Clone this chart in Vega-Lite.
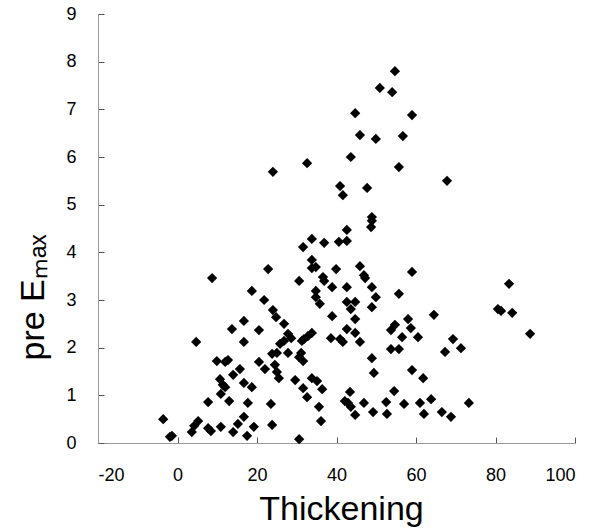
{
  "$schema": "https://vega.github.io/schema/vega-lite/v6.json",
  "width": 477,
  "height": 429,
  "autosize": {"type": "none"},
  "padding": {"left": 98, "top": 14, "right": 23, "bottom": 86},
  "background": "white",
  "config": {
    "view": {"stroke": null},
    "font": "Liberation Sans"
  },
  "data": {
    "values": [
      {"t": -3.6, "e": 0.50}, {"t": -1.9, "e": 0.13}, {"t": -1.4, "e": 0.15}, {"t": 3.6, "e": 0.23},
      {"t": 4.2, "e": 0.36}, {"t": 5.2, "e": 0.46}, {"t": 4.7, "e": 2.12}, {"t": 7.7, "e": 0.31},
      {"t": 8.4, "e": 0.25}, {"t": 7.7, "e": 0.86}, {"t": 8.7, "e": 3.46}, {"t": 9.9, "e": 1.72},
      {"t": 10.9, "e": 0.34}, {"t": 10.9, "e": 1.03}, {"t": 10.7, "e": 1.34}, {"t": 11.4, "e": 1.22},
      {"t": 12.0, "e": 1.17}, {"t": 12.0, "e": 1.70}, {"t": 12.7, "e": 1.74}, {"t": 13.0, "e": 0.88},
      {"t": 13.7, "e": 2.39}, {"t": 14.0, "e": 1.43}, {"t": 14.0, "e": 0.23}, {"t": 15.2, "e": 0.40},
      {"t": 15.7, "e": 1.55}, {"t": 16.7, "e": 0.55}, {"t": 16.7, "e": 1.26}, {"t": 16.7, "e": 2.12},
      {"t": 16.7, "e": 2.56}, {"t": 17.5, "e": 0.15}, {"t": 17.7, "e": 0.84}, {"t": 18.7, "e": 1.17},
      {"t": 18.7, "e": 3.19}, {"t": 19.2, "e": 0.34}, {"t": 20.5, "e": 2.37}, {"t": 20.5, "e": 1.70},
      {"t": 21.8, "e": 3.00}, {"t": 22.0, "e": 1.55}, {"t": 22.8, "e": 3.65}, {"t": 23.5, "e": 0.82},
      {"t": 23.8, "e": 0.38}, {"t": 23.8, "e": 1.87}, {"t": 25.0, "e": 1.89}, {"t": 24.0, "e": 2.79},
      {"t": 24.8, "e": 2.64}, {"t": 24.5, "e": 1.64}, {"t": 25.0, "e": 1.49}, {"t": 25.5, "e": 1.36},
      {"t": 26.8, "e": 2.50}, {"t": 27.8, "e": 2.29}, {"t": 28.6, "e": 2.20}, {"t": 26.8, "e": 2.14},
      {"t": 25.8, "e": 2.08}, {"t": 27.8, "e": 1.89}, {"t": 29.6, "e": 1.32}, {"t": 30.6, "e": 3.40},
      {"t": 30.6, "e": 0.08}, {"t": 31.1, "e": 1.89}, {"t": 30.6, "e": 1.80}, {"t": 31.6, "e": 1.72},
      {"t": 31.3, "e": 2.14}, {"t": 31.8, "e": 2.18}, {"t": 32.8, "e": 2.24}, {"t": 33.8, "e": 2.31},
      {"t": 31.6, "e": 1.15}, {"t": 31.6, "e": 4.11}, {"t": 32.6, "e": 5.87}, {"t": 32.6, "e": 0.96},
      {"t": 33.8, "e": 4.28}, {"t": 33.8, "e": 3.84}, {"t": 34.8, "e": 3.69}, {"t": 33.8, "e": 3.67},
      {"t": 33.8, "e": 1.36}, {"t": 35.1, "e": 1.30}, {"t": 34.8, "e": 3.19}, {"t": 34.8, "e": 3.06},
      {"t": 35.8, "e": 2.92}, {"t": 35.6, "e": 0.76}, {"t": 36.1, "e": 0.46}, {"t": 36.4, "e": 1.13},
      {"t": 36.6, "e": 3.48}, {"t": 36.9, "e": 3.40}, {"t": 36.9, "e": 4.20}, {"t": 24.0, "e": 5.69},
      {"t": 38.9, "e": 3.27}, {"t": 38.9, "e": 2.66}, {"t": 38.6, "e": 2.20}, {"t": 39.9, "e": 3.65},
      {"t": 40.6, "e": 4.22}, {"t": 40.9, "e": 5.39}, {"t": 40.9, "e": 2.18}, {"t": 41.6, "e": 2.12},
      {"t": 41.6, "e": 5.20}, {"t": 42.1, "e": 0.88}, {"t": 42.6, "e": 4.24}, {"t": 42.6, "e": 4.47},
      {"t": 42.6, "e": 3.27}, {"t": 42.6, "e": 2.96}, {"t": 42.6, "e": 2.39}, {"t": 42.9, "e": 0.84},
      {"t": 43.4, "e": 1.07}, {"t": 43.6, "e": 0.76}, {"t": 43.6, "e": 2.81}, {"t": 43.6, "e": 6.00},
      {"t": 44.7, "e": 6.92}, {"t": 44.7, "e": 2.96}, {"t": 44.7, "e": 2.60}, {"t": 44.7, "e": 2.31},
      {"t": 44.7, "e": 0.59}, {"t": 45.9, "e": 6.46}, {"t": 45.9, "e": 3.71}, {"t": 45.9, "e": 2.12},
      {"t": 46.9, "e": 3.52}, {"t": 47.2, "e": 3.46}, {"t": 46.9, "e": 0.84}, {"t": 47.7, "e": 5.35},
      {"t": 48.9, "e": 4.74}, {"t": 48.9, "e": 4.66}, {"t": 48.7, "e": 4.53}, {"t": 48.9, "e": 3.27},
      {"t": 48.9, "e": 2.85}, {"t": 48.9, "e": 1.78}, {"t": 49.2, "e": 0.65}, {"t": 49.4, "e": 1.47},
      {"t": 49.9, "e": 6.38}, {"t": 49.9, "e": 3.06}, {"t": 50.9, "e": 7.45}, {"t": 52.5, "e": 0.86},
      {"t": 52.7, "e": 0.61}, {"t": 53.7, "e": 2.37}, {"t": 54.7, "e": 2.48}, {"t": 53.7, "e": 1.97},
      {"t": 54.0, "e": 7.36}, {"t": 54.5, "e": 1.09}, {"t": 54.7, "e": 7.80}, {"t": 55.7, "e": 5.79},
      {"t": 55.7, "e": 3.13}, {"t": 55.7, "e": 1.97}, {"t": 56.5, "e": 2.22}, {"t": 56.7, "e": 6.44},
      {"t": 57.0, "e": 0.82}, {"t": 58.0, "e": 2.60}, {"t": 58.7, "e": 2.41}, {"t": 59.0, "e": 6.88},
      {"t": 59.0, "e": 3.59}, {"t": 59.0, "e": 1.53}, {"t": 60.5, "e": 2.22}, {"t": 61.0, "e": 0.84},
      {"t": 61.8, "e": 1.36}, {"t": 62.0, "e": 0.61}, {"t": 63.8, "e": 0.92}, {"t": 64.5, "e": 2.69},
      {"t": 66.5, "e": 0.65}, {"t": 67.3, "e": 1.91}, {"t": 67.8, "e": 5.50}, {"t": 68.8, "e": 0.55},
      {"t": 69.3, "e": 2.18}, {"t": 71.3, "e": 1.99}, {"t": 73.3, "e": 0.84}, {"t": 80.6, "e": 2.81},
      {"t": 81.4, "e": 2.77}, {"t": 83.4, "e": 3.34}, {"t": 84.2, "e": 2.73}, {"t": 88.7, "e": 2.29}
    ]
  },
  "mark": {"type": "point", "shape": "diamond", "filled": true, "color": "black", "opacity": 1, "size": 105},
  "encoding": {
    "x": {
      "field": "t",
      "type": "quantitative",
      "scale": {"domain": [-20, 100], "nice": false, "zero": false},
      "axis": {
        "values": [-20, 0, 20, 40, 60, 80, 100],
        "grid": false,
        "domainColor": "#999999",
        "tickColor": "#555555",
        "tickSize": -6,
        "labelFontSize": 18,
        "labelColor": "black",
        "labelPadding": 29,
        "labelExpr": "datum.value + ''",
        "title": "Thickening",
        "titleFontSize": 34,
        "titleFontWeight": "normal",
        "titleColor": "black",
        "titleX": 243,
        "titleY": 76,
        "titleBaseline": "alphabetic"
      }
    },
    "y": {
      "field": "e",
      "type": "quantitative",
      "scale": {"domain": [0, 9], "nice": false},
      "axis": {
        "values": [0, 1, 2, 3, 4, 5, 6, 7, 8, 9],
        "grid": false,
        "domainColor": "#999999",
        "tickColor": "#555555",
        "tickSize": -6,
        "labelFontSize": 18,
        "labelColor": "black",
        "labelPadding": 28,
        "title": "pre Eₘₐₓ",
        "titleFontSize": 34,
        "titleFontWeight": "normal",
        "titleColor": "black",
        "titleX": -55,
        "titleY": 346,
        "titleAlign": "left",
        "titleBaseline": "alphabetic"
      }
    }
  }
}
